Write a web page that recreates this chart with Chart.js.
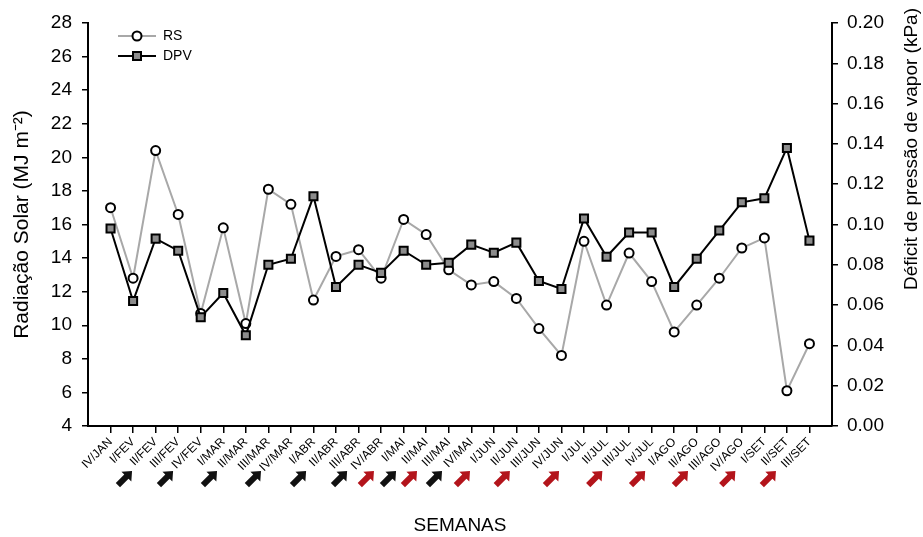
<!DOCTYPE html>
<html>
<head>
<meta charset="utf-8">
<script src="https://cdn.jsdelivr.net/npm/chart.js@4.4.0/dist/chart.umd.min.js"></script>
<style>
  body { margin: 0; background: #fff; }
  #wrap { width: 923px; height: 537px; }
</style>
</head>
<body>
<div id="wrap"><canvas id="chart" width="923" height="537"></canvas></div>
<script>
  // ────────── Data ──────────
  const weeks = ['IV/JAN','I/FEV','II/FEV','III/FEV','IV/FEV','I/MAR','II/MAR','III/MAR','IV/MAR',
    'I/ABR','II/ABR','III/ABR','IV/ABR','I/MAI','II/MAI','III/MAI','IV/MAI','I/JUN','II/JUN','III/JUN','IV/JUN',
    'I/JUL','II/JUL','III/JUL','Iv/JUL','I/AGO','II/AGO','III/AGO','IV/AGO','I/SET','II/SET','III/SET'];

  // radiação solar (MJ m-2)
  const rs = [17.0, 12.8, 20.4, 16.6, 10.7, 15.8, 10.1, 18.1, 17.2, 11.5, 14.1, 14.5, 12.8, 16.3, 15.4, 13.3,
    12.4, 12.6, 11.6, 9.8, 8.2, 15.0, 11.2, 14.3, 12.6, 9.6, 11.2, 12.8, 14.6, 15.2, 6.1, 8.9];

  // déficit de pressão de vapor (kPa)
  const dpv = [0.098, 0.062, 0.093, 0.087, 0.054, 0.066, 0.045, 0.080, 0.083, 0.114, 0.069, 0.080, 0.076, 0.087,
    0.080, 0.081, 0.090, 0.086, 0.091, 0.072, 0.068, 0.103, 0.084, 0.096, 0.096, 0.069, 0.083, 0.097, 0.111,
    0.113, 0.138, 0.092];

  // arrows under the axis, in week-index units
  const blackArrows = [0.64, 2.46, 4.41, 6.36, 8.36, 10.18, 12.35, 14.39];
  const redArrows = [11.37, 13.28, 15.63, 17.4, 19.58, 21.5, 23.4, 25.3, 27.4, 29.2];

  const leftTitle = 'Radiação Solar (MJ m⁻²)';
  const rightTitle = 'Déficit de pressão de vapor (kPa)';
  const bottomTitle = 'SEMANAS';

  const FONT = "'Liberation Sans', Arial, sans-serif";

  // ────────── Extras: arrows, legend, right title ──────────
  function drawArrow(ctx, cx, cy, color) {
    ctx.save();
    ctx.translate(cx, cy);
    ctx.rotate(-Math.PI / 4);
    ctx.beginPath();
    ctx.moveTo(-10, -3);
    ctx.lineTo(2, -3);
    ctx.lineTo(2, -7);
    ctx.lineTo(10, 0);
    ctx.lineTo(2, 7);
    ctx.lineTo(2, 3);
    ctx.lineTo(-10, 3);
    ctx.closePath();
    ctx.fillStyle = color;
    ctx.fill();
    ctx.restore();
  }

  const extras = {
    id: 'extras',
    afterDraw(chart) {
      const { ctx, scales: { x } } = chart;

      blackArrows.forEach(v => drawArrow(ctx, x.getPixelForValue(v), 478, '#111'));
      redArrows.forEach(v => drawArrow(ctx, x.getPixelForValue(v), 478, '#b3141b'));

      // legend: line with marker in the middle
      chart.data.datasets.forEach((ds, i) => {
        const y = 36 + i * 20;
        ctx.save();
        ctx.strokeStyle = ds.borderColor;
        ctx.lineWidth = 2;
        ctx.beginPath();
        ctx.moveTo(118, y);
        ctx.lineTo(156, y);
        ctx.stroke();
        ctx.fillStyle = ds.pointBackgroundColor;
        ctx.strokeStyle = ds.pointBorderColor;
        ctx.lineWidth = 2;
        ctx.beginPath();
        if (ds.pointStyle === 'rect') {
          ctx.rect(133, y - 4, 8, 8);
        } else {
          ctx.arc(137, y, 4.5, 0, 2 * Math.PI);
        }
        ctx.fill();
        ctx.stroke();
        ctx.fillStyle = '#000';
        ctx.font = '14px ' + FONT;
        ctx.textAlign = 'left';
        ctx.textBaseline = 'middle';
        ctx.fillText(ds.label, 163, y);
        ctx.restore();
      });

      // right axis title reads bottom-to-top
      ctx.save();
      ctx.translate(912, 149);
      ctx.rotate(-Math.PI / 2);
      ctx.font = '19px ' + FONT;
      ctx.fillStyle = '#000';
      ctx.textAlign = 'center';
      ctx.textBaseline = 'middle';
      ctx.fillText(rightTitle, 0, 0);
      ctx.restore();
    }
  };

  // ────────── Chart ──────────
  const ctx = document.getElementById('chart').getContext('2d');
  new Chart(ctx, {
    type: 'line',
    data: {
      datasets: [
        {
          label: 'RS',
          data: rs.map((v, i) => ({ x: i, y: v })),
          yAxisID: 'y',
          borderColor: '#a8a8a8',
          borderWidth: 2,
          pointStyle: 'circle',
          pointRadius: 4.5,
          pointBackgroundColor: '#fff',
          pointBorderColor: '#000',
          pointBorderWidth: 2,
          order: 1
        },
        {
          label: 'DPV',
          data: dpv.map((v, i) => ({ x: i, y: v })),
          yAxisID: 'y1',
          borderColor: '#000',
          borderWidth: 2,
          pointStyle: 'rect',
          pointRadius: 5.7,
          pointBackgroundColor: '#8c8c8c',
          pointBorderColor: '#000',
          pointBorderWidth: 2,
          order: 0
        }
      ]
    },
    options: {
      responsive: false,
      animation: false,
      layout: { padding: { top: 23, left: 0, right: 0, bottom: 0 } },
      plugins: { legend: { display: false }, tooltip: { enabled: false } },
      scales: {
        x: {
          type: 'linear',
          min: -1,
          max: 32,
          afterBuildTicks(s) {
            s.ticks = weeks.map((w, i) => ({ value: i }));
          },
          afterFit(s) { s.height = 111; },
          grid: { drawOnChartArea: false, drawTicks: true, tickLength: 7, color: '#000', lineWidth: 1.5 },
          border: { color: '#000', width: 2 },
          ticks: {
            autoSkip: false,
            minRotation: 45,
            maxRotation: 45,
            padding: 2,
            color: '#000',
            font: { family: FONT, size: 12 },
            callback: v => weeks[v]
          },
          title: {
            display: true,
            text: bottomTitle,
            color: '#000',
            font: { family: FONT, size: 19 },
            padding: { top: 0, bottom: 0 }
          }
        },
        y: {
          position: 'left',
          min: 4,
          max: 28,
          afterFit(s) { s.width = 88; },
          grid: { drawOnChartArea: false, drawTicks: true, tickLength: 6, color: '#000', lineWidth: 1.5 },
          border: { color: '#000', width: 2 },
          ticks: {
            stepSize: 2,
            padding: 10,
            color: '#000',
            font: { family: FONT, size: 19 }
          },
          title: {
            display: true,
            text: leftTitle,
            color: '#000',
            font: { family: FONT, size: 21 },
            padding: { top: 10, bottom: 0 }
          }
        },
        y1: {
          position: 'right',
          min: 0,
          max: 0.2,
          afterFit(s) { s.width = 91; },
          grid: { drawOnChartArea: false, drawTicks: true, tickLength: 6, color: '#000', lineWidth: 1.5 },
          border: { color: '#000', width: 2 },
          ticks: {
            stepSize: 0.02,
            padding: 9,
            color: '#000',
            font: { family: FONT, size: 19 },
            callback: v => v.toFixed(2)
          }
        }
      }
    },
    plugins: [extras]
  });
</script>
</body>
</html>
